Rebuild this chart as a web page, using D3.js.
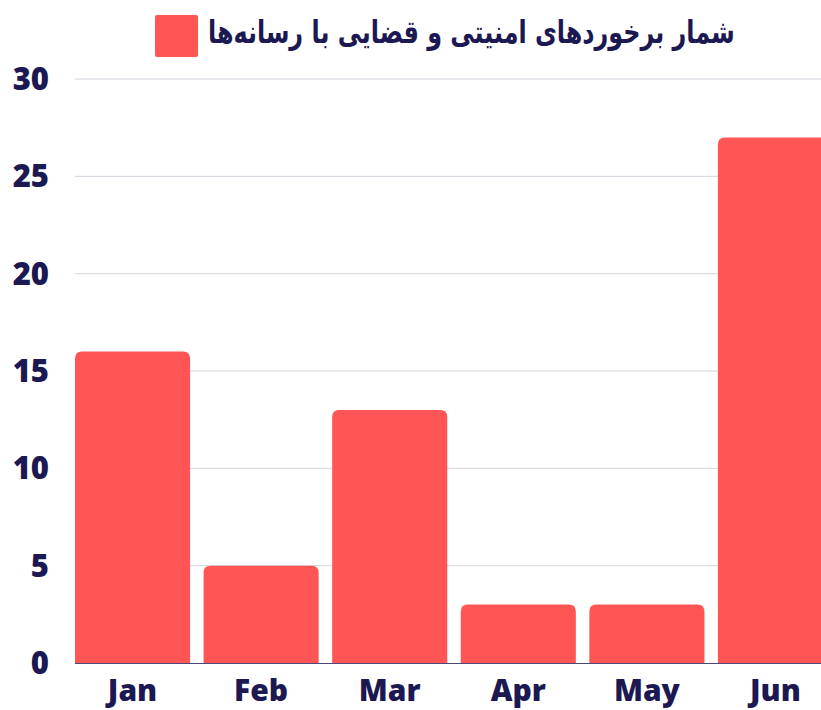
<!DOCTYPE html>
<html><head><meta charset="utf-8">
<script src="https://cdn.jsdelivr.net/npm/d3@7"></script>
<style>body{margin:0;background:#fff;overflow:hidden}svg{display:block}</style>
</head><body>
<script>
const categories = ["Jan","Feb","Mar","Apr","May","Jun"];
const values = [16,5,13,3,3,27];
const yTicks = [0,5,10,15,20,25,30];
const seriesName = "شمار برخوردهای امنیتی و قضایی با رسانه‌ها";

const W = 821, H = 710;
const svg = d3.select("body").append("svg").attr("width", W).attr("height", H);
const textColor = "#1b1852";
const barColor = "#ff5555";

const x = d3.scaleBand().domain(categories).range([75, 833]).paddingInner(0.105).paddingOuter(0);
const y = d3.scaleLinear().domain([0,30]).range([663, 79]);

// gridlines
svg.append("g").selectAll("line").data(yTicks.filter(d=>d>0)).join("line")
  .attr("x1", 75).attr("x2", W).attr("y1", d=>y(d)).attr("y2", d=>y(d))
  .attr("stroke", "#d3d3dc").attr("stroke-width", 1);

// y labels
svg.append("g").selectAll("text").data(yTicks).join("text")
  .attr("x", 49).attr("y", d=>y(d)+11)
  .attr("text-anchor","end")
  .attr("font-family","'Open Sans', sans-serif").attr("font-weight",800)
  .attr("font-size",31).attr("fill",textColor).text(d=>d);

// bars with rounded top corners
const r = 7;
svg.append("g").selectAll("path").data(categories.map((c,i)=>({c, v:values[i]}))).join("path")
  .attr("fill", barColor)
  .attr("d", d => {
    const x0 = x(d.c), w = x.bandwidth(), y0 = y(d.v), yb = y(0);
    return `M${x0},${yb} L${x0},${y0+r} Q${x0},${y0} ${x0+r},${y0} L${x0+w-r},${y0} Q${x0+w},${y0} ${x0+w},${y0+r} L${x0+w},${yb} Z`;
  });

// baseline axis
svg.append("line").attr("x1",75).attr("x2",W).attr("y1",y(0)+0.5).attr("y2",y(0)+0.5)
  .attr("stroke","#4a4a78").attr("stroke-width",1);

// x labels
svg.append("g").selectAll("text").data(categories).join("text")
  .attr("x", d=>x(d)+x.bandwidth()/2).attr("y", 701)
  .attr("text-anchor","middle")
  .attr("font-family","'Open Sans', sans-serif").attr("font-weight",800)
  .attr("font-size",30).attr("fill",textColor).text(d=>d);

// legend
svg.append("rect").attr("x",155).attr("y",15).attr("width",43).attr("height",42)
  .attr("rx",2).attr("fill",barColor);
const lg = svg.append("g");
const lt = lg.append("text").attr("x",0).attr("y",0)
  .attr("font-family","'DejaVu Sans',sans-serif").attr("font-weight",700)
  .attr("font-size",32).attr("fill",textColor)
  .text(seriesName);
const len = lt.node().getComputedTextLength() || 527;
lg.attr("transform", `translate(208,43) scale(${527/len},1)`);
</script>
</body></html>
